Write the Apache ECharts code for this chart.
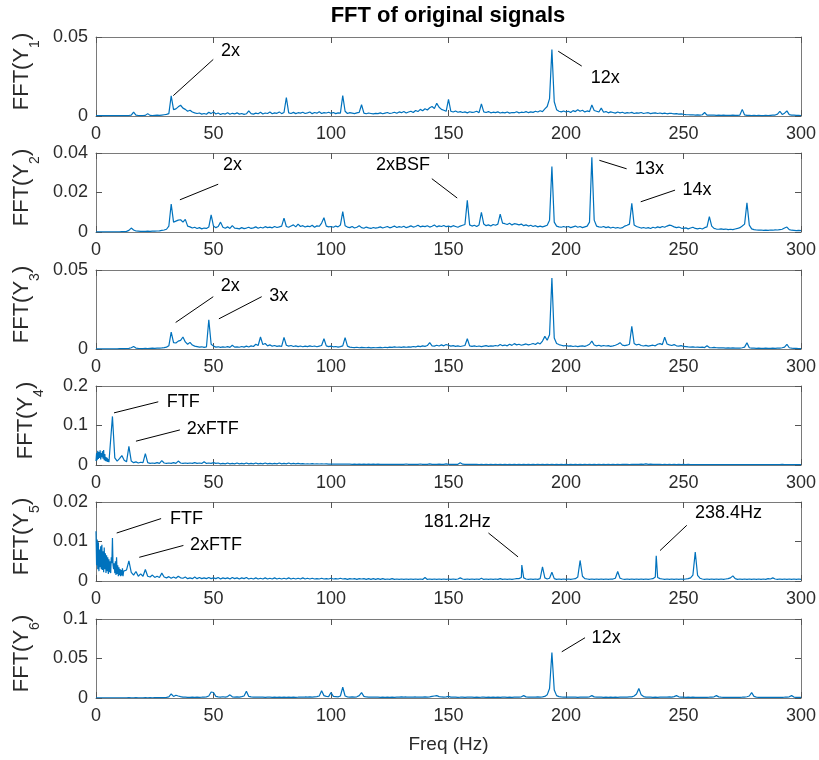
<!DOCTYPE html>
<html>
<head>
<meta charset="utf-8">
<title>FFT of original signals</title>
<script src="https://cdn.jsdelivr.net/npm/echarts@6/dist/echarts.min.js"></script>
<style>
  html, body { margin: 0; padding: 0; background: #ffffff; }
  #chart { width: 819px; height: 760px; }
</style>
</head>
<body>
<div id="chart"></div>
<script>
// Amplitude spectra, one value per 1 Hz bin from 0 Hz to 300 Hz (10 bins per row).
const ampY1 = [
  0.0002,0.0002,0.0002,0.0002,0.0002,0.0002,0.0002,0.0002,0.0002,0.0002,
  0.0002,0.0002,0.0002,0.0003,0.0003,0.0005,0.0025,0.0005,0.0003,0.0003,
  0.0003,0.0004,0.0015,0.0004,0.0003,0.0004,0.0005,0.0004,0.0006,0.0008,
  0.0010,0.0015,0.0128,0.0040,0.0045,0.0058,0.0068,0.0050,0.0042,0.0030,
  0.0036,0.0025,0.0020,0.0016,0.0019,0.0012,0.0016,0.0011,0.0024,0.0015,
  0.0026,0.0013,0.0019,0.0010,0.0016,0.0012,0.0021,0.0011,0.0017,0.0013,
  0.0020,0.0012,0.0016,0.0010,0.0014,0.0032,0.0015,0.0012,0.0018,0.0014,
  0.0024,0.0013,0.0019,0.0016,0.0025,0.0014,0.0020,0.0017,0.0026,0.0015,
  0.0022,0.0117,0.0020,0.0016,0.0023,0.0015,0.0021,0.0018,0.0024,0.0016,
  0.0020,0.0025,0.0015,0.0022,0.0018,0.0027,0.0016,0.0021,0.0019,0.0024,
  0.0017,0.0022,0.0015,0.0020,0.0018,0.0129,0.0030,0.0016,0.0021,0.0018,
  0.0015,0.0020,0.0023,0.0071,0.0018,0.0014,0.0019,0.0016,0.0013,0.0017,
  0.0015,0.0020,0.0014,0.0018,0.0022,0.0016,0.0019,0.0024,0.0017,0.0026,
  0.0021,0.0028,0.0019,0.0025,0.0030,0.0022,0.0035,0.0028,0.0042,0.0033,
  0.0046,0.0038,0.0052,0.0060,0.0048,0.0080,0.0055,0.0042,0.0036,0.0030,
  0.0105,0.0030,0.0025,0.0032,0.0024,0.0028,0.0022,0.0026,0.0020,0.0027,
  0.0023,0.0025,0.0030,0.0021,0.0077,0.0026,0.0022,0.0028,0.0020,0.0024,
  0.0021,0.0026,0.0019,0.0023,0.0020,0.0025,0.0018,0.0022,0.0021,0.0027,
  0.0020,0.0024,0.0022,0.0028,0.0021,0.0026,0.0023,0.0030,0.0025,0.0033,
  0.0028,0.0045,0.0060,0.0110,0.0420,0.0090,0.0040,0.0030,0.0026,0.0032,
  0.0025,0.0030,0.0022,0.0034,0.0028,0.0040,0.0030,0.0036,0.0026,0.0032,
  0.0028,0.0070,0.0035,0.0030,0.0025,0.0050,0.0024,0.0028,0.0020,0.0026,
  0.0022,0.0018,0.0025,0.0020,0.0024,0.0017,0.0021,0.0019,0.0023,0.0016,
  0.0020,0.0018,0.0022,0.0016,0.0019,0.0021,0.0015,0.0018,0.0020,0.0016,
  0.0019,0.0015,0.0018,0.0014,0.0017,0.0016,0.0013,0.0015,0.0012,0.0014,
  0.0011,0.0009,0.0008,0.0007,0.0008,0.0006,0.0007,0.0006,0.0008,0.0022,
  0.0006,0.0005,0.0006,0.0005,0.0004,0.0005,0.0004,0.0005,0.0004,0.0004,
  0.0004,0.0005,0.0004,0.0004,0.0006,0.0042,0.0007,0.0004,0.0004,0.0003,
  0.0004,0.0003,0.0004,0.0003,0.0003,0.0004,0.0003,0.0004,0.0005,0.0006,
  0.0012,0.0030,0.0010,0.0018,0.0032,0.0009,0.0006,0.0005,0.0004,0.0004,
  0.0003
];

const ampY2 = [
  0.0001,0.0001,0.0001,0.0001,0.0001,0.0001,0.0001,0.0001,0.0001,0.0001,
  0.0001,0.0002,0.0002,0.0003,0.0008,0.0020,0.0010,0.0005,0.0004,0.0003,
  0.0003,0.0003,0.0004,0.0003,0.0004,0.0004,0.0005,0.0006,0.0008,0.0010,
  0.0014,0.0030,0.0142,0.0050,0.0055,0.0060,0.0062,0.0050,0.0064,0.0030,
  0.0026,0.0020,0.0024,0.0018,0.0022,0.0016,0.0020,0.0018,0.0025,0.0087,
  0.0030,0.0022,0.0028,0.0050,0.0024,0.0019,0.0026,0.0018,0.0032,0.0020,
  0.0018,0.0016,0.0022,0.0017,0.0020,0.0024,0.0018,0.0021,0.0026,0.0019,
  0.0024,0.0020,0.0027,0.0022,0.0025,0.0021,0.0028,0.0023,0.0026,0.0030,
  0.0070,0.0028,0.0024,0.0030,0.0036,0.0026,0.0040,0.0028,0.0032,0.0025,
  0.0030,0.0027,0.0034,0.0024,0.0031,0.0029,0.0045,0.0072,0.0030,0.0026,
  0.0028,0.0024,0.0030,0.0026,0.0035,0.0103,0.0032,0.0025,0.0022,0.0028,
  0.0020,0.0024,0.0032,0.0022,0.0019,0.0025,0.0021,0.0018,0.0023,0.0020,
  0.0022,0.0026,0.0020,0.0024,0.0028,0.0021,0.0025,0.0030,0.0023,0.0027,
  0.0024,0.0029,0.0022,0.0026,0.0031,0.0025,0.0028,0.0034,0.0026,0.0030,
  0.0027,0.0032,0.0025,0.0029,0.0035,0.0026,0.0031,0.0028,0.0033,0.0027,
  0.0030,0.0026,0.0032,0.0028,0.0024,0.0030,0.0034,0.0038,0.0160,0.0036,
  0.0030,0.0034,0.0028,0.0036,0.0100,0.0040,0.0032,0.0036,0.0030,0.0038,
  0.0034,0.0040,0.0090,0.0045,0.0042,0.0038,0.0044,0.0036,0.0042,0.0040,
  0.0036,0.0040,0.0032,0.0036,0.0030,0.0034,0.0028,0.0032,0.0026,0.0030,
  0.0026,0.0030,0.0034,0.0060,0.0332,0.0050,0.0030,0.0026,0.0024,0.0028,
  0.0024,0.0028,0.0022,0.0026,0.0030,0.0024,0.0028,0.0022,0.0026,0.0030,
  0.0050,0.0378,0.0060,0.0030,0.0026,0.0024,0.0028,0.0022,0.0026,0.0020,
  0.0024,0.0020,0.0023,0.0019,0.0022,0.0030,0.0034,0.0040,0.0145,0.0035,
  0.0028,0.0024,0.0020,0.0023,0.0019,0.0022,0.0018,0.0024,0.0020,0.0026,
  0.0022,0.0028,0.0024,0.0030,0.0035,0.0032,0.0026,0.0022,0.0025,0.0020,
  0.0018,0.0021,0.0016,0.0020,0.0024,0.0018,0.0016,0.0019,0.0015,0.0022,
  0.0026,0.0078,0.0030,0.0018,0.0015,0.0014,0.0016,0.0013,0.0015,0.0012,
  0.0014,0.0012,0.0015,0.0018,0.0022,0.0030,0.0040,0.0148,0.0035,0.0016,
  0.0012,0.0010,0.0009,0.0010,0.0008,0.0009,0.0008,0.0010,0.0009,0.0011,
  0.0010,0.0012,0.0014,0.0020,0.0025,0.0012,0.0009,0.0008,0.0007,0.0008,
  0.0007
];

const ampY3 = [
  0.0001,0.0001,0.0001,0.0001,0.0001,0.0001,0.0001,0.0001,0.0001,0.0001,
  0.0002,0.0002,0.0002,0.0003,0.0004,0.0008,0.0016,0.0006,0.0004,0.0003,
  0.0003,0.0004,0.0003,0.0004,0.0005,0.0004,0.0005,0.0006,0.0007,0.0009,
  0.0012,0.0020,0.0107,0.0040,0.0038,0.0050,0.0055,0.0076,0.0045,0.0030,
  0.0042,0.0025,0.0018,0.0015,0.0012,0.0014,0.0010,0.0013,0.0185,0.0030,
  0.0018,0.0012,0.0014,0.0010,0.0013,0.0011,0.0015,0.0010,0.0024,0.0012,
  0.0014,0.0011,0.0016,0.0012,0.0018,0.0013,0.0020,0.0016,0.0030,0.0022,
  0.0076,0.0028,0.0035,0.0020,0.0026,0.0018,0.0022,0.0017,0.0020,0.0016,
  0.0074,0.0024,0.0018,0.0022,0.0016,0.0020,0.0015,0.0019,0.0014,0.0018,
  0.0015,0.0020,0.0016,0.0019,0.0014,0.0018,0.0022,0.0065,0.0020,0.0015,
  0.0018,0.0014,0.0016,0.0012,0.0015,0.0020,0.0072,0.0018,0.0012,0.0010,
  0.0009,0.0011,0.0008,0.0010,0.0009,0.0008,0.0010,0.0007,0.0009,0.0008,
  0.0009,0.0010,0.0008,0.0011,0.0009,0.0012,0.0010,0.0013,0.0011,0.0012,
  0.0010,0.0013,0.0011,0.0014,0.0012,0.0016,0.0013,0.0018,0.0015,0.0020,
  0.0017,0.0022,0.0040,0.0020,0.0018,0.0024,0.0019,0.0026,0.0020,0.0028,
  0.0024,0.0018,0.0021,0.0017,0.0020,0.0016,0.0019,0.0022,0.0065,0.0020,
  0.0017,0.0020,0.0016,0.0019,0.0015,0.0018,0.0021,0.0017,0.0020,0.0018,
  0.0022,0.0019,0.0028,0.0021,0.0025,0.0020,0.0030,0.0023,0.0034,0.0026,
  0.0030,0.0024,0.0028,0.0032,0.0026,0.0030,0.0035,0.0028,0.0040,0.0032,
  0.0050,0.0080,0.0055,0.0090,0.0450,0.0070,0.0035,0.0028,0.0024,0.0020,
  0.0022,0.0018,0.0020,0.0016,0.0019,0.0015,0.0018,0.0020,0.0017,0.0022,
  0.0030,0.0050,0.0025,0.0020,0.0024,0.0018,0.0022,0.0019,0.0021,0.0017,
  0.0020,0.0024,0.0030,0.0040,0.0025,0.0021,0.0024,0.0030,0.0143,0.0035,
  0.0026,0.0030,0.0022,0.0019,0.0023,0.0018,0.0021,0.0024,0.0020,0.0030,
  0.0034,0.0028,0.0074,0.0032,0.0026,0.0022,0.0028,0.0020,0.0018,0.0021,
  0.0016,0.0015,0.0013,0.0012,0.0014,0.0011,0.0012,0.0010,0.0012,0.0009,
  0.0020,0.0009,0.0008,0.0010,0.0008,0.0007,0.0008,0.0007,0.0006,0.0007,
  0.0006,0.0007,0.0006,0.0005,0.0006,0.0008,0.0012,0.0040,0.0008,0.0005,
  0.0005,0.0004,0.0005,0.0004,0.0004,0.0005,0.0004,0.0004,0.0005,0.0004,
  0.0005,0.0006,0.0008,0.0012,0.0030,0.0008,0.0005,0.0004,0.0004,0.0003,
  0.0003
];

const ampY4 = [
  0.0200,0.0370,0.0240,0.0360,0.0280,0.0380,0.0120,0.1230,0.0180,0.0100,
  0.0160,0.0240,0.0120,0.0080,0.0470,0.0100,0.0060,0.0080,0.0050,0.0070,
  0.0060,0.0290,0.0060,0.0040,0.0050,0.0040,0.0060,0.0040,0.0110,0.0050,
  0.0040,0.0050,0.0040,0.0060,0.0040,0.0100,0.0050,0.0040,0.0050,0.0040,
  0.0050,0.0040,0.0060,0.0040,0.0050,0.0040,0.0080,0.0040,0.0050,0.0040,
  0.0060,0.0040,0.0050,0.0030,0.0040,0.0030,0.0050,0.0030,0.0040,0.0030,
  0.0050,0.0030,0.0040,0.0030,0.0050,0.0030,0.0040,0.0030,0.0050,0.0030,
  0.0040,0.0030,0.0050,0.0030,0.0040,0.0030,0.0040,0.0030,0.0050,0.0030,
  0.0040,0.0030,0.0050,0.0030,0.0040,0.0030,0.0040,0.0030,0.0035,0.0025,
  0.0030,0.0025,0.0035,0.0025,0.0030,0.0025,0.0030,0.0025,0.0030,0.0020,
  0.0025,0.0020,0.0025,0.0020,0.0025,0.0020,0.0025,0.0020,0.0022,0.0018,
  0.0022,0.0018,0.0020,0.0018,0.0022,0.0018,0.0020,0.0017,0.0020,0.0017,
  0.0020,0.0017,0.0019,0.0016,0.0019,0.0016,0.0018,0.0016,0.0018,0.0015,
  0.0018,0.0015,0.0025,0.0015,0.0018,0.0015,0.0017,0.0015,0.0025,0.0015,
  0.0018,0.0015,0.0030,0.0016,0.0018,0.0015,0.0020,0.0016,0.0018,0.0030,
  0.0018,0.0015,0.0017,0.0015,0.0018,0.0055,0.0020,0.0015,0.0017,0.0014,
  0.0016,0.0014,0.0016,0.0013,0.0015,0.0013,0.0015,0.0013,0.0015,0.0013,
  0.0015,0.0013,0.0014,0.0012,0.0014,0.0012,0.0014,0.0012,0.0014,0.0012,
  0.0014,0.0012,0.0014,0.0012,0.0015,0.0012,0.0014,0.0012,0.0016,0.0013,
  0.0015,0.0012,0.0014,0.0013,0.0016,0.0012,0.0014,0.0012,0.0014,0.0012,
  0.0014,0.0012,0.0014,0.0012,0.0015,0.0012,0.0014,0.0012,0.0014,0.0013,
  0.0015,0.0012,0.0014,0.0012,0.0016,0.0013,0.0015,0.0012,0.0016,0.0013,
  0.0015,0.0013,0.0016,0.0013,0.0018,0.0014,0.0016,0.0013,0.0018,0.0014,
  0.0016,0.0014,0.0020,0.0015,0.0030,0.0016,0.0022,0.0015,0.0018,0.0014,
  0.0016,0.0013,0.0015,0.0013,0.0016,0.0013,0.0015,0.0012,0.0014,0.0012,
  0.0014,0.0012,0.0014,0.0012,0.0013,0.0011,0.0013,0.0011,0.0013,0.0011,
  0.0013,0.0011,0.0012,0.0011,0.0012,0.0010,0.0012,0.0010,0.0012,0.0010,
  0.0011,0.0010,0.0011,0.0010,0.0011,0.0010,0.0011,0.0010,0.0011,0.0010,
  0.0011,0.0010,0.0011,0.0010,0.0011,0.0010,0.0011,0.0010,0.0011,0.0010,
  0.0011,0.0010,0.0018,0.0010,0.0011,0.0010,0.0011,0.0010,0.0011,0.0010,
  0.0010
];
// Channel 4 below 6 Hz at 0.25 Hz resolution
const lowBandY4 = [
  0.0100,0.0300,0.0120,0.0360,0.0150,0.0330,0.0180,0.0370,
  0.0140,0.0300,0.0200,0.0350,0.0160,0.0380,0.0120,0.0280,
  0.0100,0.0200,0.0090,0.0180,0.0080,0.0150,0.0070,0.0120
];

const ampY5 = [
  0.0126,0.0060,0.0092,0.0045,0.0088,0.0038,0.0070,0.0109,0.0040,0.0062,
  0.0025,0.0035,0.0020,0.0028,0.0051,0.0022,0.0015,0.0024,0.0012,0.0018,
  0.0012,0.0029,0.0012,0.0010,0.0015,0.0009,0.0012,0.0009,0.0020,0.0010,
  0.0008,0.0011,0.0007,0.0010,0.0007,0.0012,0.0008,0.0007,0.0010,0.0006,
  0.0008,0.0006,0.0010,0.0006,0.0009,0.0006,0.0008,0.0006,0.0009,0.0006,
  0.0008,0.0006,0.0009,0.0005,0.0008,0.0006,0.0008,0.0005,0.0009,0.0006,
  0.0008,0.0005,0.0008,0.0006,0.0009,0.0005,0.0007,0.0005,0.0008,0.0005,
  0.0007,0.0005,0.0008,0.0005,0.0007,0.0005,0.0008,0.0005,0.0007,0.0005,
  0.0007,0.0005,0.0008,0.0005,0.0007,0.0005,0.0007,0.0005,0.0008,0.0005,
  0.0007,0.0005,0.0007,0.0005,0.0006,0.0005,0.0007,0.0005,0.0006,0.0005,
  0.0007,0.0005,0.0006,0.0005,0.0007,0.0005,0.0006,0.0004,0.0006,0.0005,
  0.0006,0.0004,0.0006,0.0005,0.0006,0.0004,0.0006,0.0004,0.0006,0.0004,
  0.0006,0.0004,0.0006,0.0004,0.0005,0.0004,0.0006,0.0004,0.0005,0.0004,
  0.0005,0.0004,0.0005,0.0004,0.0005,0.0004,0.0005,0.0004,0.0005,0.0004,
  0.0009,0.0004,0.0005,0.0004,0.0005,0.0004,0.0005,0.0004,0.0005,0.0004,
  0.0005,0.0004,0.0005,0.0004,0.0005,0.0008,0.0005,0.0004,0.0005,0.0004,
  0.0005,0.0004,0.0005,0.0004,0.0007,0.0004,0.0005,0.0004,0.0005,0.0004,
  0.0005,0.0004,0.0006,0.0004,0.0005,0.0004,0.0005,0.0004,0.0005,0.0006,
  0.0006,0.0009,0.0008,0.0005,0.0004,0.0005,0.0004,0.0005,0.0004,0.0006,
  0.0036,0.0008,0.0005,0.0007,0.0022,0.0006,0.0004,0.0005,0.0004,0.0005,
  0.0004,0.0005,0.0004,0.0005,0.0006,0.0010,0.0052,0.0012,0.0006,0.0005,
  0.0004,0.0005,0.0004,0.0005,0.0004,0.0005,0.0004,0.0005,0.0004,0.0005,
  0.0005,0.0007,0.0024,0.0007,0.0005,0.0004,0.0005,0.0004,0.0005,0.0004,
  0.0005,0.0004,0.0005,0.0004,0.0005,0.0004,0.0005,0.0006,0.0010,0.0009,
  0.0006,0.0005,0.0004,0.0005,0.0004,0.0005,0.0004,0.0005,0.0004,0.0005,
  0.0004,0.0005,0.0006,0.0008,0.0015,0.0073,0.0014,0.0007,0.0005,0.0004,
  0.0005,0.0004,0.0005,0.0004,0.0005,0.0004,0.0005,0.0004,0.0005,0.0006,
  0.0008,0.0013,0.0006,0.0004,0.0005,0.0004,0.0005,0.0004,0.0005,0.0004,
  0.0005,0.0004,0.0005,0.0004,0.0005,0.0004,0.0006,0.0005,0.0008,0.0005,
  0.0004,0.0005,0.0004,0.0005,0.0004,0.0005,0.0004,0.0005,0.0004,0.0005,
  0.0004
];
// Channel 5 below 12 Hz at 0.25 Hz resolution
const lowBandY5 = [
  0.0126,0.0040,0.0105,0.0030,0.0098,0.0025,0.0080,0.0035,
  0.0088,0.0030,0.0092,0.0028,0.0075,0.0022,0.0085,0.0030,
  0.0070,0.0020,0.0065,0.0025,0.0060,0.0018,0.0055,0.0022,
  0.0050,0.0020,0.0060,0.0045,0.0109,0.0040,0.0030,0.0045,
  0.0020,0.0050,0.0015,0.0060,0.0018,0.0040,0.0012,0.0035,
  0.0015,0.0030,0.0012,0.0028,0.0014,0.0032,0.0012,0.0025
];
// Off-grid spectral lines of channel 5, [Hz, amplitude]
const linesY5 = [[181.2, 0.00405], [238.4, 0.0064]];

const ampY6 = [
  0.0003,0.0003,0.0003,0.0003,0.0003,0.0003,0.0003,0.0003,0.0003,0.0003,
  0.0003,0.0003,0.0003,0.0003,0.0004,0.0003,0.0003,0.0004,0.0003,0.0003,
  0.0003,0.0004,0.0003,0.0004,0.0003,0.0004,0.0004,0.0005,0.0004,0.0005,
  0.0008,0.0015,0.0051,0.0020,0.0035,0.0025,0.0018,0.0012,0.0010,0.0008,
  0.0008,0.0010,0.0008,0.0012,0.0009,0.0010,0.0012,0.0015,0.0025,0.0076,
  0.0070,0.0020,0.0015,0.0012,0.0016,0.0012,0.0018,0.0040,0.0015,0.0012,
  0.0014,0.0012,0.0018,0.0025,0.0085,0.0020,0.0014,0.0012,0.0010,0.0012,
  0.0010,0.0012,0.0009,0.0011,0.0010,0.0009,0.0011,0.0009,0.0010,0.0009,
  0.0011,0.0009,0.0010,0.0009,0.0011,0.0009,0.0010,0.0012,0.0010,0.0013,
  0.0011,0.0014,0.0012,0.0015,0.0018,0.0025,0.0093,0.0030,0.0020,0.0018,
  0.0070,0.0020,0.0018,0.0015,0.0025,0.0136,0.0025,0.0015,0.0012,0.0014,
  0.0012,0.0015,0.0030,0.0068,0.0020,0.0013,0.0011,0.0010,0.0012,0.0010,
  0.0011,0.0009,0.0010,0.0009,0.0011,0.0009,0.0010,0.0009,0.0011,0.0012,
  0.0015,0.0011,0.0013,0.0010,0.0012,0.0011,0.0013,0.0010,0.0012,0.0011,
  0.0013,0.0012,0.0015,0.0020,0.0025,0.0030,0.0018,0.0013,0.0012,0.0015,
  0.0020,0.0012,0.0010,0.0011,0.0009,0.0010,0.0012,0.0009,0.0011,0.0010,
  0.0012,0.0009,0.0011,0.0009,0.0010,0.0012,0.0009,0.0010,0.0009,0.0011,
  0.0009,0.0010,0.0009,0.0011,0.0012,0.0009,0.0010,0.0009,0.0011,0.0010,
  0.0012,0.0015,0.0030,0.0014,0.0011,0.0010,0.0012,0.0011,0.0013,0.0012,
  0.0015,0.0020,0.0040,0.0120,0.0576,0.0100,0.0030,0.0018,0.0014,0.0012,
  0.0011,0.0010,0.0012,0.0010,0.0011,0.0009,0.0011,0.0010,0.0012,0.0011,
  0.0015,0.0030,0.0014,0.0011,0.0010,0.0011,0.0009,0.0010,0.0009,0.0011,
  0.0009,0.0010,0.0009,0.0011,0.0010,0.0012,0.0011,0.0013,0.0015,0.0025,
  0.0050,0.0120,0.0040,0.0018,0.0012,0.0010,0.0011,0.0009,0.0010,0.0009,
  0.0011,0.0010,0.0012,0.0011,0.0014,0.0012,0.0018,0.0030,0.0015,0.0011,
  0.0010,0.0009,0.0010,0.0009,0.0010,0.0008,0.0009,0.0008,0.0009,0.0008,
  0.0009,0.0010,0.0012,0.0015,0.0030,0.0014,0.0010,0.0008,0.0009,0.0008,
  0.0009,0.0008,0.0009,0.0008,0.0009,0.0010,0.0012,0.0016,0.0025,0.0068,
  0.0020,0.0012,0.0009,0.0008,0.0009,0.0008,0.0009,0.0008,0.0009,0.0008,
  0.0009,0.0008,0.0009,0.0010,0.0012,0.0015,0.0030,0.0012,0.0009,0.0008,
  0.0008
];

const channels = ['1', '2', '3', '4', '5', '6'];
const spectra = [ampY1, ampY2, ampY3, ampY4, ampY5, ampY6];
const lowBands = [[], [], [], lowBandY4, lowBandY5, []];
const lowBandStep = 0.25;
const extraLines = [[], [], [], [], linesY5, []];
const yMax = [0.05, 0.04, 0.05, 0.2, 0.02, 0.1];
const yStep = [0.05, 0.02, 0.05, 0.1, 0.01, 0.05];
const freqMax = 300;
const freqStep = 50;

// Callouts: [channel index, text, line start [Hz, amp], line end [Hz, amp], text anchor [Hz, amp], side]
const callouts = [
  [0, '2x',      [32.9, 0.0129],  [49.9, 0.0358],  [53.2, 0.0414],  'right'],
  [0, '12x',     [196.7, 0.0410], [206.7, 0.0316], [210.5, 0.0238], 'right'],
  [1, '2x',      [35.7, 0.0163],  [52.0, 0.0242],  [54.0, 0.0337],  'right'],
  [1, '2xBSF',   [153.7, 0.0172], [142.9, 0.0270], [142.1, 0.0337], 'left'],
  [1, '13x',     [214.2, 0.0363], [225.8, 0.0320], [229.4, 0.0320], 'right'],
  [1, '14x',     [231.8, 0.0153], [246.4, 0.0212], [249.6, 0.0213], 'right'],
  [2, '2x',      [33.9, 0.0168],  [49.9, 0.0331],  [53.1, 0.0399],  'right'],
  [2, '3x',      [52.3, 0.0191],  [70.5, 0.0331],  [73.7, 0.0338],  'right'],
  [3, 'FTF',     [7.66, 0.132],   [26.5, 0.160],   [30.1, 0.160],   'right'],
  [3, '2xFTF',   [17.0, 0.0603],  [35.7, 0.0888],  [38.6, 0.0913],  'right'],
  [4, 'FTF',     [8.8, 0.01215],  [27.7, 0.0158],  [31.5, 0.0158],  'right'],
  [4, '2xFTF',   [18.4, 0.0060],  [37.2, 0.0090],  [40.0, 0.00915], 'right'],
  [4, '181.2Hz', [179.6, 0.0061], [167.0, 0.01215],[168.0, 0.0150],  'left'],
  [4, '238.4Hz', [240.0, 0.0077], [251.4, 0.0141], [254.9, 0.0171], 'right'],
  [5, '12x',     [198.2, 0.0585], [208.1, 0.0763], [210.9, 0.0763], 'right']
];

const FONT = '"Liberation Sans", Arial, Helvetica, sans-serif';
const AXIS_COLOR = '#7a7a7a';
const TEXT_COLOR = '#2b2b2b';
const LINE_COLOR = '#0072BD';
const gridTops = [37, 153, 270, 386, 502, 619];
const gridHeight = 79;

// 1 Hz bins, with an optional finer band at the low end and off-grid lines merged in
function spectrumPoints(amp, lowBand, extra) {
  const fineEnd = lowBand.length * lowBandStep;
  const pts = lowBand.map((v, k) => [k * lowBandStep, v]);
  amp.forEach((v, i) => { if (i >= fineEnd) pts.push([i, v]); });
  extra.forEach(p => pts.push(p));
  pts.sort((a, b) => a[0] - b[0]);
  return pts;
}

const grids = [], xAxes = [], yAxes = [], series = [];
channels.forEach((ch, i) => {
  grids.push({ left: 96, right: 18, top: gridTops[i], height: gridHeight,
               containLabel: false, outerBoundsMode: 'none' });
  const tick = { show: true, inside: true, length: 6, lineStyle: { color: '#555', width: 1 } };
  const line = { show: true, onZero: false, lineStyle: { color: AXIS_COLOR, width: 1 } };
  const last = i === channels.length - 1;
  xAxes.push({
    type: 'value', gridIndex: i, position: 'bottom', min: 0, max: freqMax, interval: freqStep,
    axisLine: line, axisTick: tick, splitLine: { show: false },
    axisLabel: { show: true, margin: 9, fontSize: 18, fontFamily: FONT, color: TEXT_COLOR },
    name: last ? 'Freq (Hz)' : '', nameLocation: 'middle', nameGap: 37,
    nameTextStyle: { fontSize: 19, fontFamily: FONT, color: TEXT_COLOR }
  });
  xAxes.push({
    type: 'value', gridIndex: i, position: 'top', min: 0, max: freqMax, interval: freqStep,
    axisLine: line, axisTick: tick, splitLine: { show: false }, axisLabel: { show: false }
  });
  yAxes.push({
    type: 'value', gridIndex: i, position: 'left', min: 0, max: yMax[i], interval: yStep[i],
    axisLine: line, axisTick: tick, splitLine: { show: false },
    axisLabel: { show: true, margin: 8, fontSize: 18, fontFamily: FONT, color: TEXT_COLOR },
    name: 'FFT(Y{s|' + ch + '})', nameLocation: 'middle', nameRotate: 90, nameGap: 50,
    nameTextStyle: {
      fontSize: 22, fontFamily: FONT, color: TEXT_COLOR, lineHeight: 40, padding: [0, 0, 0, 10],
      rich: { s: { fontSize: 14, fontFamily: FONT, color: TEXT_COLOR, lineHeight: 14, verticalAlign: 'bottom' } }
    }
  });
  yAxes.push({
    type: 'value', gridIndex: i, position: 'right', min: 0, max: yMax[i], interval: yStep[i],
    axisLine: line, axisTick: tick, splitLine: { show: false }, axisLabel: { show: false }
  });

  const mine = callouts.filter(c => c[0] === i);
  series.push({
    type: 'line', xAxisIndex: 2 * i, yAxisIndex: 2 * i,
    data: spectrumPoints(spectra[i], lowBands[i], extraLines[i]),
    showSymbol: false, symbol: 'none', sampling: null, silent: true,
    lineStyle: { color: LINE_COLOR, width: 1.2 },
    markLine: {
      silent: true, symbol: ['none', 'none'], animation: false,
      lineStyle: { color: '#000', width: 1, type: 'solid' },
      label: { show: false }, emphasis: { disabled: true },
      data: mine.map(c => [{ coord: c[2] }, { coord: c[3] }])
    },
    markPoint: {
      silent: true, symbol: 'circle', symbolSize: 0, animation: false,
      itemStyle: { color: 'transparent' },
      data: mine.map(c => ({
        coord: c[4], value: c[1],
        label: { show: true, formatter: c[1], position: c[5], distance: 0,
                 fontSize: 18, fontFamily: FONT, color: '#000' }
      }))
    }
  });
});

const chart = echarts.init(document.getElementById('chart'), null, { renderer: 'canvas' });
chart.setOption({
  backgroundColor: '#ffffff',
  animation: false,
  grid: grids,
  xAxis: xAxes,
  yAxis: yAxes,
  series: series,
  graphic: [{
    type: 'text', x: 448, y: 16,
    style: { text: 'FFT of original signals', fontSize: 22, fontWeight: 'bold', fontFamily: FONT,
             fill: '#000', align: 'center', verticalAlign: 'middle' }
  }]
});
</script>
</body>
</html>
